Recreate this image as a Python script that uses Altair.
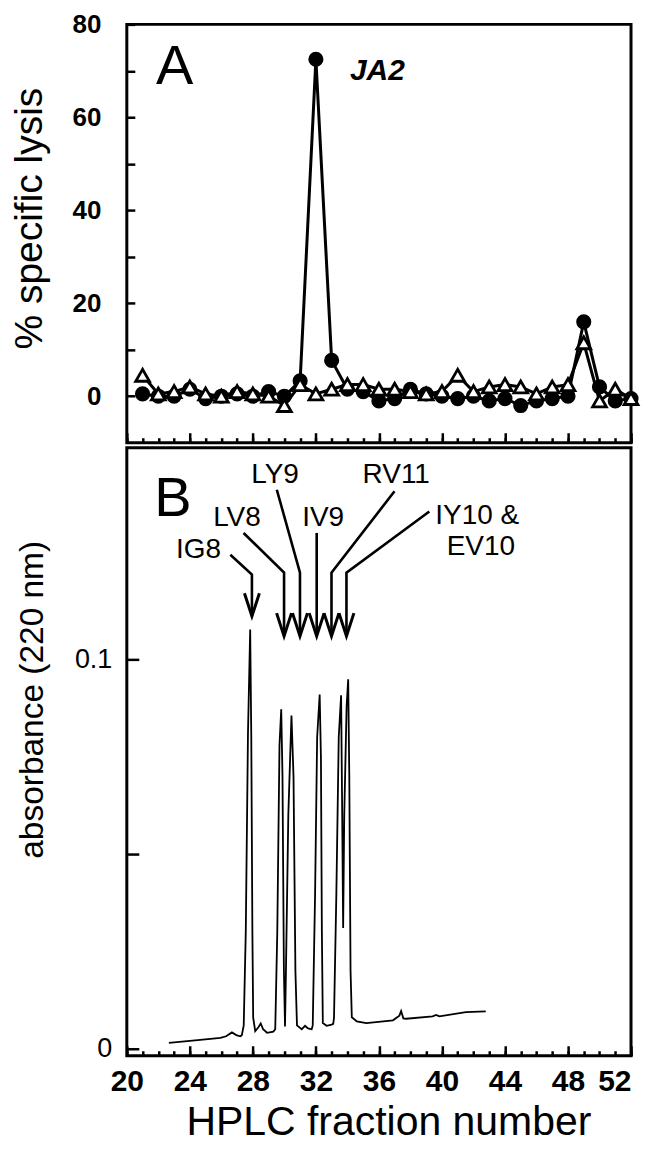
import altair as alt
import pandas as pd

FONT = "Liberation Sans"

# ---------------- Panel A: % specific lysis per HPLC fraction ----------------
fractions = list(range(21, 53))
lysis_filled = [0.5, 0, 0, 1.5, -0.5, 0, 0.5, 0, 1, 0, 3.3, 72.5, 7.7, 1.5, 1, -1,
                -0.5, 1.5, 0.5, 0, -0.5, 0, -1, -0.5, -2, -1, -0.5, 0, 16, 2, -1, -0.5]
lysis_open = [4.5, 0.5, 1, 2, 0.5, 0, 1, 0.5, 0, -2, 2.5, 0.5, 1.5, 2.5, 2.5, 1.5,
              1.5, 1, 0.5, 1, 4.5, 1, 2, 2.5, 2, 0.5, 2, 2.5, 11.5, -1, 1.5, -0.5]

yA_ticks = [0, 10, 20, 30, 40, 50, 60, 70, 80]
yA_labels = ["0", "", "20", "", "40", "", "60", "", "80"]

# ---------------- Panel B: absorbance trace ----------------
chrom_fraction = [22.67, 24.5, 25.94, 26.3, 26.67, 26.95, 27.2, 27.3, 27.42, 27.55, 27.69, 27.83,
                  27.9, 27.97, 28.02, 28.15, 28.35, 28.5, 28.65, 28.9, 29.3, 29.42, 29.55, 29.69,
                  29.8, 29.88, 29.97, 30.04, 30.1, 30.25, 30.45, 30.58, 30.7, 30.8, 31.1, 31.31,
                  31.5, 31.73, 31.8, 31.95, 32.08, 32.24, 32.32, 32.38, 32.44, 32.68, 33.0, 33.1,
                  33.15, 33.3, 33.45, 33.6, 33.67, 33.73, 33.8, 33.95, 34.05, 34.12, 34.2, 34.28,
                  34.6, 35.2, 36.89, 37.3, 37.41, 37.55, 37.73, 39.41, 39.63, 39.84, 41.52, 42.78]
chrom_abs = [0.0015, 0.0022, 0.0028, 0.0032, 0.0042, 0.0035, 0.0032, 0.0035, 0.006, 0.03, 0.081, 0.1077,
             0.08, 0.03, 0.008, 0.0045, 0.0055, 0.0065, 0.005, 0.0041, 0.0044, 0.005, 0.03, 0.078,
             0.0872, 0.07, 0.02, 0.0057, 0.02, 0.06, 0.0856, 0.07, 0.02, 0.006, 0.005, 0.0059,
             0.0052, 0.005, 0.006, 0.04, 0.08, 0.091, 0.075, 0.03, 0.0066, 0.0059, 0.0062, 0.0064,
             0.008, 0.04, 0.08, 0.0908, 0.06, 0.031, 0.06, 0.088, 0.0949, 0.07, 0.02, 0.0081,
             0.007, 0.0066, 0.0073, 0.0085, 0.0097, 0.0078, 0.0077, 0.0083, 0.0087, 0.0083, 0.0094, 0.0096]

yB_ticks = [0, 0.05, 0.1]
yB_labels = ["0", "", "0.1"]

x_major_ticks = [20, 24, 28, 32, 36, 40, 44, 48, 52]
x_minor_ticks = list(range(20, 53))

# arrows (start -> elbow -> tip), in data units
arrow_names = ["IG8", "LV8", "LY9", "IV9", "RV11", "IY10"]
arrow_start_x = [26.57, 27.41, 29.52, 32.05, 36.99, 39.2]
arrow_start_y = [0.1269, 0.1325, 0.1436, 0.1325, 0.1432, 0.138]
arrow_elbow_y = [0.1218, 0.1223, 0.1223, 0.1325, 0.1223, 0.1223]
arrow_tip_x = [27.94, 29.98, 30.99, 32.05, 32.99, 33.94]
arrow_tip_y = [0.1111, 0.106, 0.106, 0.106, 0.106, 0.106]

peptide_labels = ["IG8", "LV8", "LY9", "IV9", "RV11", "IY10 &", "EV10"]
peptide_label_x = [24.55, 26.99, 29.41, 32.46, 37.1, 42.24, 42.47]
peptide_label_y = [0.1282, 0.1364, 0.1474, 0.1363, 0.1474, 0.1368, 0.1290]

W, HA, HB = 505, 419, 609

xscale = alt.Scale(domain=[20, 52], nice=False, zero=False)
yscaleA = alt.Scale(domain=[-10, 80], nice=False, zero=False)
yscaleB = alt.Scale(domain=[-0.0018, 0.1544], nice=False, zero=False)


def label_expr(values, labels):
    expr = "''"
    for v, l in zip(values, labels):
        expr = f"abs(datum.value - {v}) < 1e-9 ? '{l}' : ({expr})"
    return expr


def x_axis(values, ticklen, **kw):
    return alt.Axis(values=values, orient="bottom", offset=-ticklen, tickSize=ticklen,
                    domain=False, grid=False, **kw)


x_major_A = x_axis(x_major_ticks, 10, labels=False, title=None)
x_minor = x_axis(x_minor_ticks, 5, labels=False, title=None)
x_major_B = x_axis(x_major_ticks, 10, labels=True, labelFontSize=30, labelFontWeight="bold",
                   labelFlush=False,
                   labelAlign={"condition": {"test": f"datum.value >= {x_major_ticks[-1]}", "value": "right"},
                               "value": "center"},
                   labelPadding=11, title="HPLC fraction number", titleFontSize=41,
                   titleFontWeight="normal", titleBaseline="middle", titleY=77, titleX=262)

yaxisA = alt.Axis(values=yA_ticks, labelExpr=label_expr(yA_ticks, yA_labels), offset=-8, tickSize=8,
                  domain=False, grid=False, labelFontSize=26, labelFontWeight="bold", labelPadding=26,
                  title="% specific lysis", titleFontSize=39, titleFontWeight="normal",
                  titleBaseline="middle", titleX=-105, titleY=194)
yaxisB = alt.Axis(values=yB_ticks, labelExpr=label_expr(yB_ticks, yB_labels), offset=-12, tickSize=12,
                  domain=False, grid=False, labelFontSize=27, labelFontWeight="normal", labelPadding=15,
                  title="absorbance (220 nm)", titleFontSize=33.5, titleFontWeight="normal",
                  titleBaseline="middle", titleX=-106, titleY=252)

dfF = pd.DataFrame({"fraction": fractions, "lysis": lysis_filled})
dfO = pd.DataFrame({"fraction": fractions, "lysis": lysis_open})
dfA_letter = pd.DataFrame({"fraction": [23.03], "lysis": [70.9], "t": ["A"]})
dfA_target = pd.DataFrame({"fraction": [35.9], "lysis": [70.0], "t": ["JA2"]})

XA = lambda ax: alt.X("fraction:Q", scale=xscale, axis=ax)
YA = alt.Y("lysis:Q", scale=yscaleA, axis=yaxisA)

lineF = alt.Chart(dfF).mark_line(color="black", strokeWidth=3).encode(x=XA(x_major_A), y=YA)
ptsF = alt.Chart(dfF).mark_point(shape="circle", filled=True, color="black", size=230, opacity=1).encode(
    x=XA(None), y=YA)
lineO = alt.Chart(dfO).mark_line(color="black", strokeWidth=3).encode(x=XA(x_minor), y=YA)
ptsO = alt.Chart(dfO).mark_point(shape="triangle-up", filled=True, fill="white", stroke="black",
                                 strokeWidth=2.8, size=190, opacity=1).encode(x=XA(None), y=YA)
textA1 = alt.Chart(dfA_letter).mark_text(font=FONT, fontSize=56, color="black", align="center",
                                         baseline="middle").encode(x=XA(None), y=YA, text="t:N")
textA2 = alt.Chart(dfA_target).mark_text(font=FONT, fontSize=30, fontWeight="bold", fontStyle="italic",
                                         color="black", align="center", baseline="middle").encode(
    x=XA(None), y=YA, text="t:N")

panelA = alt.layer(lineF, ptsF, lineO, ptsO, textA1, textA2).resolve_axis(x="independent").properties(
    width=W, height=HA)

# ---------------- Panel B ----------------
dfC = pd.DataFrame({"fraction": chrom_fraction, "abs": chrom_abs})
rows = []
for i, n in enumerate(arrow_names):
    rows.append({"id": n, "o": 0, "fraction": arrow_start_x[i], "abs": arrow_start_y[i]})
    rows.append({"id": n, "o": 1, "fraction": arrow_tip_x[i], "abs": arrow_elbow_y[i]})
    rows.append({"id": n, "o": 2, "fraction": arrow_tip_x[i], "abs": arrow_tip_y[i]})
dfArr = pd.DataFrame(rows)
dfTips = pd.DataFrame({"fraction": arrow_tip_x, "abs": arrow_tip_y})
dfLab = pd.DataFrame({"fraction": peptide_label_x, "abs": peptide_label_y, "t": peptide_labels})
dfB_text = pd.DataFrame({"fraction": [22.93], "abs": [0.1413], "t": ["B"]})

XB = lambda ax: alt.X("fraction:Q", scale=xscale, axis=ax)
YB = alt.Y("abs:Q", scale=yscaleB, axis=yaxisB)

chrom = alt.Chart(dfC).mark_line(color="black", strokeWidth=1.8).encode(x=XB(x_major_B), y=YB)
arrows = alt.Chart(dfArr).mark_line(color="black", strokeWidth=2.6, strokeJoin="miter").encode(
    x=XB(x_minor), y=YB, detail="id:N", order="o:Q")
heads = alt.Chart(dfTips).mark_point(shape="M-0.65,-1L0,1L0.65,-1", filled=False, stroke="black",
                                     strokeWidth=3, size=529, yOffset=-11.5, opacity=1,
                                     strokeJoin="miter").encode(x=XB(None), y=YB)
labs = alt.Chart(dfLab).mark_text(font=FONT, fontSize=28, color="black", align="center",
                                  baseline="middle").encode(x=XB(None), y=YB, text="t:N")
textB = alt.Chart(dfB_text).mark_text(font=FONT, fontSize=56, color="black", align="center",
                                      baseline="middle").encode(x=XB(None), y=YB, text="t:N")

panelB = alt.layer(chrom, arrows, heads, labs, textB).resolve_axis(x="independent").properties(
    width=W, height=HB)

chart = alt.vconcat(panelA, panelB, spacing=0).properties(
    padding={"left": 1, "top": 0.5, "right": -4, "bottom": 0},
    background="white",
).configure_view(stroke="black", strokeWidth=3).configure_axis(
    tickColor="black", tickWidth=2.5, labelColor="black", titleColor="black",
    labelFont=FONT, titleFont=FONT,
)

chart.save("out.html", embed_options={"renderer": "svg", "actions": False})
